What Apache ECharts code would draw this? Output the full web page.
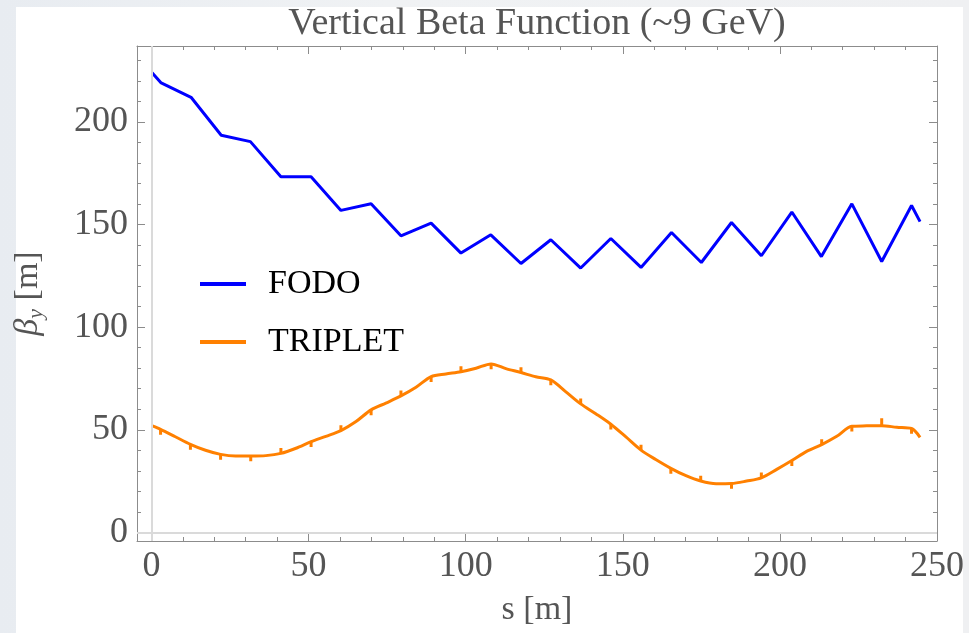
<!DOCTYPE html>
<html><head><meta charset="utf-8">
<script src="https://cdn.jsdelivr.net/npm/echarts@6/dist/echarts.min.js"></script>
<style>
html,body{margin:0;padding:0;width:969px;height:633px;overflow:hidden;background:linear-gradient(90deg,#e8ecf1,#f0f2f4 40%,#eff0f2);}
#panel{position:absolute;left:16px;top:7px;width:947px;height:626px;background:#fff;}
#chart{position:absolute;left:0;top:0;width:969px;height:633px;}
</style></head><body><div id="panel"></div><div id="chart"></div>
<script>
// ---- data ----
const fodoS = [0.2, 3.1, 12.6, 22.2, 31.5, 41.2, 50.8, 60.3, 69.9, 79.4, 89.0, 98.5, 108.0, 117.6, 127.1, 136.6, 146.2, 155.8, 165.5, 175.0, 184.6, 194.1, 203.8, 213.2, 222.9, 232.4, 241.9, 244.6];
const fodoBeta = [224.0, 219.0, 212.0, 193.5, 190.4, 173.3, 173.3, 156.9, 160.1, 144.5, 150.7, 136.1, 145.0, 131.0, 142.6, 128.8, 143.2, 129.1, 146.1, 131.5, 151.0, 134.8, 156.1, 134.4, 160.1, 132.0, 159.3, 151.4];

const tripletS = [0.3, 2.9, 7.6, 12.4, 17.2, 22.0, 26.8, 31.6, 36.4, 41.2, 46.0, 50.8, 55.5, 60.3, 65.1, 69.9, 74.6, 79.4, 84.2, 89.0, 93.7, 98.5, 103.3, 108.1, 112.8, 117.6, 122.3, 127.1, 131.8, 136.6, 141.4, 146.2, 151.0, 155.8, 160.5, 165.3, 170.1, 174.8, 179.7, 184.6, 189.4, 194.1, 199.0, 203.8, 208.5, 213.3, 218.1, 222.9, 227.6, 232.4, 237.2, 241.9, 244.6];
const tripletBeta = [51.9, 50.2, 46.6, 42.9, 40.0, 38.0, 37.2, 37.2, 37.4, 38.5, 41.0, 44.2, 46.8, 49.6, 54.0, 59.7, 63.0, 66.5, 70.7, 75.9, 77.2, 78.3, 80.0, 82.1, 79.8, 77.9, 75.8, 74.3, 68.6, 62.6, 57.8, 52.7, 46.5, 40.1, 35.5, 31.2, 27.6, 25.0, 23.7, 23.8, 25.0, 26.6, 30.7, 35.0, 39.5, 42.8, 46.8, 51.7, 51.9, 52.0, 51.2, 50.6, 46.3];
// small element kicks drawn on the TRIPLET curve (position, offset in m)
const spikeS = [2.9, 12.4, 22.0, 31.6, 41.2, 50.8, 60.3, 69.9, 79.4, 89.0, 98.5, 108.1, 117.6, 127.1, 136.6, 146.2, 155.8, 165.3, 174.8, 184.6, 194.1, 203.8, 213.3, 222.9, 232.4, 241.9];
const spikeD = [-2.6, -2.6, -2.6, -2.6, 2.6, -2.6, 2.6, -2.6, 2.6, -2.6, 2.6, -2.6, 2.6, -2.6, 2.6, -2.6, 2.6, -2.6, 2.6, -2.6, 2.6, -2.6, 2.6, -2.6, 3.6, -2.6];

const xMajor = [0, 50, 100, 150, 200, 250];
const xMinor = [10, 20, 30, 40, 60, 70, 80, 90, 110, 120, 130, 140, 160, 170, 180, 190, 210, 220, 230, 240];
const yMajor = [0, 50, 100, 150, 200];
const yMinor = [10, 20, 30, 40, 60, 70, 80, 90, 110, 120, 130, 140, 160, 170, 180, 190, 210, 220, 230];

const titleText = 'Vertical Beta Function (~9 GeV)';
const xName = 's [m]';
const yName = '{b|β}{s|y} [m]';
const seriesNames = ['FODO', 'TRIPLET'];

// ---- build ----
const FONT = 'Liberation Serif';
const frameColor = '#8c8c8c';
const labelColor = '#555555';
const X_MIN = -4.6, X_MAX = 250, Y_MIN = -4.2, Y_MAX = 237;

function axis(kind, pos, ticks, len, opts) {
  const a = {
    type: 'value', position: pos, gridIndex: 0,
    min: kind === 'x' ? X_MIN : Y_MIN, max: kind === 'x' ? X_MAX : Y_MAX,
    axisLine: { show: !!opts.line, onZero: false, lineStyle: { color: frameColor, width: 1 } },
    axisTick: { show: true, inside: true, length: len, customValues: ticks, lineStyle: { color: frameColor, width: 1 } },
    axisLabel: { show: false },
    splitLine: { show: false }
  };
  if (opts.labels) {
    a.axisLabel = { show: true, customValues: opts.labels, color: labelColor, fontFamily: FONT, fontSize: 36, margin: opts.margin };
  }
  if (opts.name) {
    a.name = opts.name; a.nameLocation = 'middle'; a.nameGap = opts.nameGap;
    a.nameTextStyle = opts.nameStyle;
  }
  return a;
}

const pairs = (xs, ys) => xs.map((x, i) => [x, ys[i]]);
const spikeData = [];
spikeS.forEach((s, i) => {
  const base = tripletBeta[tripletS.indexOf(s)];
  spikeData.push([s, base], [s, base + spikeD[i]], '-');
});

const option = {
  animation: false,
  grid: { left: 137, right: 32, top: 46, bottom: 92, containLabel: false },
  graphic: [{
    type: 'text', x: 537, y: 24,
    style: { text: titleText, fontFamily: FONT, fontSize: 38, fill: labelColor, align: 'center', verticalAlign: 'middle' }
  }],
  xAxis: [
    axis('x', 'bottom', xMajor, 8, { line: true, labels: xMajor, margin: 8, name: xName, nameGap: 52,
      nameStyle: { fontFamily: FONT, fontSize: 34, color: labelColor } }),
    axis('x', 'bottom', xMinor, 4, {}),
    axis('x', 'top', xMajor, 8, { line: true }),
    axis('x', 'top', xMinor, 4, {})
  ],
  yAxis: [
    axis('y', 'left', yMajor, 8, { line: true, labels: yMajor, margin: 9, name: yName, nameGap: 90,
      nameStyle: { fontFamily: FONT, fontSize: 34, color: labelColor,
        rich: { b: { fontFamily: FONT, fontSize: 34, fontStyle: 'italic', color: labelColor },
                s: { fontFamily: FONT, fontSize: 22, fontStyle: 'italic', color: labelColor, padding: [16, 0, 0, 0] } } } }),
    axis('y', 'left', yMinor, 4, {}),
    axis('y', 'right', yMajor, 8, { line: true }),
    axis('y', 'right', yMinor, 4, {})
  ],
  legend: {
    data: seriesNames, orient: 'vertical', left: 195, top: 261,
    icon: 'rect', itemWidth: 46, itemHeight: 4, itemGap: 22,
    textStyle: { fontFamily: FONT, fontSize: 34, color: '#000', lineHeight: 36, padding: [0, 0, 0, 17] },
    selectedMode: false
  },
  series: [
    { name: 'origin', type: 'line', data: [], z: 1, silent: true,
      markLine: { silent: true, symbol: 'none', label: { show: false }, animation: false,
        lineStyle: { color: '#dadada', width: 2, type: 'solid' },
        data: [{ xAxis: 0 }, { yAxis: 0 }] } },
    { name: seriesNames[0], type: 'line', data: pairs(fodoS, fodoBeta), showSymbol: false, symbol: 'none', z: 3,
      lineStyle: { color: '#0000ff', width: 3 }, itemStyle: { color: '#0000ff' }, emphasis: { disabled: true } },
    { name: seriesNames[1], type: 'line', data: pairs(tripletS, tripletBeta), showSymbol: false, symbol: 'none', z: 3,
      smooth: 0.3, lineStyle: { color: '#ff8000', width: 3 }, itemStyle: { color: '#ff8000' }, emphasis: { disabled: true } },
    { name: 'kicks', type: 'line', data: spikeData, showSymbol: false, symbol: 'none', z: 3, connectNulls: false,
      lineStyle: { color: '#ff8000', width: 3 }, emphasis: { disabled: true } }
  ]
};
const chart = echarts.init(document.getElementById('chart'), null, { renderer: 'canvas' });
chart.setOption(option);
</script></body></html>
